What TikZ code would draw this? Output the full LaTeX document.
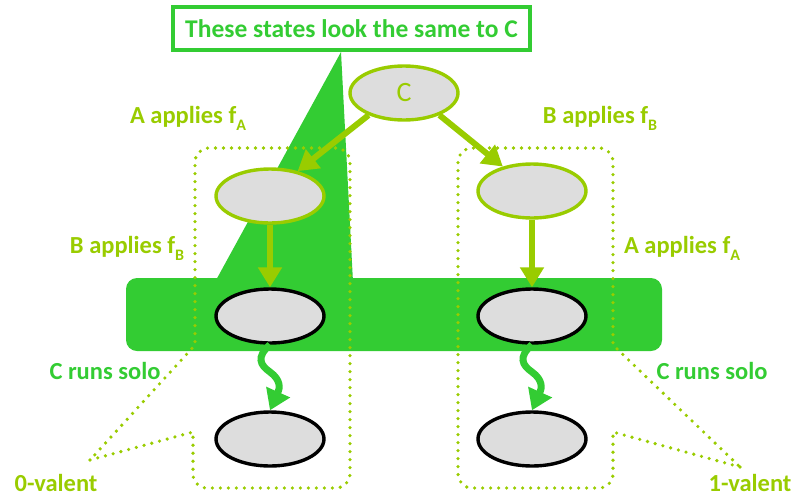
\documentclass[tikz,border=0pt]{standalone}
\usepackage{fontspec}
\setmainfont{Carlito}
\usetikzlibrary{arrows.meta,shapes.geometric}
\definecolor{yg}{HTML}{99CC00}
\definecolor{gr}{HTML}{33CC33}
\definecolor{lg}{HTML}{DDDDDD}
\newcommand{\sbs}[1]{\raisebox{-0.28em}{\fontsize{16}{18}\selectfont #1}}
\tikzset{
  st/.style={ellipse,draw,fill=lg,line width=3.4pt,minimum width=108pt,minimum height=54pt,inner sep=0pt},
  ygst/.style={st,draw=yg},
  bkst/.style={st,draw=black},
  arr/.style={draw=yg,line width=6pt,-{Triangle[width=23pt,length=20pt]}},
  wav/.style={draw=gr,line width=7pt,-{Triangle[width=25pt,length=20pt]}},
  dots/.style={draw=yg,line width=3.6pt,line cap=round,dash pattern=on 0pt off 8pt},
  lab/.style={text=yg,font=\bfseries\fontsize{24.5}{28}\selectfont,inner sep=0pt},
  glab/.style={text=gr,font=\bfseries\fontsize{24.5}{28}\selectfont,inner sep=0pt}
}
\begin{document}
\begin{tikzpicture}[x=1pt,y=-1pt]
\useasboundingbox (0,0) rectangle (798,499);
% green highlight
\fill[gr] (341,52) -- (353,282) -- (215,282) -- cycle;
\fill[gr,rounded corners=11pt] (126,278) rectangle (662,351);
% title box
\node[draw=gr,line width=3.4pt,fill=white,minimum width=357pt,minimum height=43pt,inner sep=0pt,text=gr,font=\bfseries\fontsize{25.5}{28}\selectfont] (title) at (351.5,28.5) {These states look the same to C};
% dotted regions
\draw[dots] (90,460) -- (193,432) [rounded corners=14pt] -- (193,488) -- (350,488) -- (350,148) -- (195,148) [sharp corners] -- (195,345) -- cycle;
\draw[dots] (740,467) -- (613,432) [rounded corners=14pt] -- (613,488) -- (458,488) -- (458,148) -- (613,148) [sharp corners] -- (613,345) -- cycle;
% states
\node[ygst,text=yg,font=\fontsize{28}{30}\selectfont] (C) at (404,93) {C};
\node[ygst] (L1) at (270,196) {};
\node[ygst] (R1) at (532,191) {};
\node[bkst] (L2) at (270,316) {};
\node[bkst] (R2) at (532,316) {};
\node[bkst] (L3) at (270,439) {};
\node[bkst] (R3) at (532,439) {};
% arrows
\draw[arr] (C.212) -- (L1.42);
\draw[arr] (C.328) -- (R1.140);
\draw[arr] (L1.south) -- (L2.north);
\draw[arr] (R1.south) -- (R2.north);
\draw[wav] (L2.south) .. controls (256,357) and (260,365) .. (270,372) .. controls (281,380) and (280,388) .. (L3.north);
\draw[wav] (R2.south) .. controls (518,357) and (522,365) .. (532,372) .. controls (543,380) and (542,388) .. (R3.north);
% labels
\node[lab] (la1) at (188,118) {A applies f\sbs{A}};
\node[lab] (lb1) at (600,118) {B applies f\sbs{B}};
\node[lab] (lb2) at (127,248) {B applies f\sbs{B}};
\node[lab] (la2) at (682,248) {A applies f\sbs{A}};
\node[glab] (cs1) at (105,371) {C runs solo};
\node[glab] (cs2) at (712,371) {C runs solo};
\node[lab] (v0) at (56,483) {0-valent};
\node[lab] (v1) at (750,483) {1-valent};
\end{tikzpicture}
\end{document}
